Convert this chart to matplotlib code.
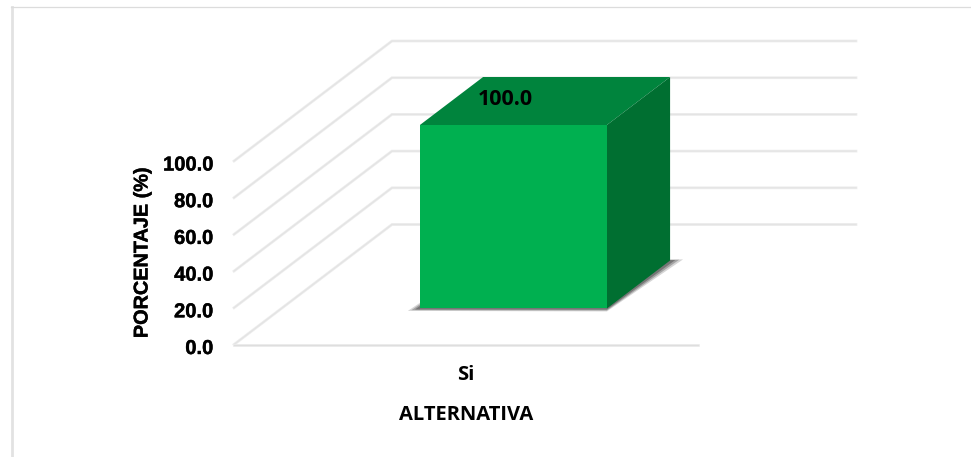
import matplotlib
matplotlib.use('Agg')
from matplotlib import patheffects as pe, pyplot as plt
from matplotlib.lines import Line2D
from matplotlib.patches import Polygon
from matplotlib.transforms import ScaledTranslation

categories = ['Si']
values = [100.0]
y_ticks = [0, 20, 40, 60, 80, 100]
y_tick_labels = ['0.0', '20.0', '40.0', '60.0', '80.0', '100.0']
x_title = 'ALTERNATIVA'
y_title = 'PORCENTAJE (%)'

# oblique depth vector, in data units
DX = 0.3405
DY = 65.4
HEAVY = [pe.withStroke(linewidth=0.3, foreground='black')]


def project(x, v, d):
    return x + DX * d, v + DY * d


fig = plt.figure(figsize=(9.71, 4.57), dpi=100)
ax = fig.add_axes([234 / 971, 112.5 / 457, 625 / 971, 303.5 / 457])
for s in ax.spines.values():
    s.set_visible(False)
ax.patch.set_visible(False)

# outer frame
fig.add_artist(Line2D([11.5 / 971, 11.5 / 971], [0, 449.8 / 457], color='#e2e2e2', lw=2.0))
fig.add_artist(Line2D([10.5 / 971, 1], [449.8 / 457, 449.8 / 457], color='#dcdcdc', lw=0.9))

# grid
for t in y_ticks:
    pts = [project(-0.5, t, 0), project(-0.5, t, 1), project(0.5, t, 1)]
    xs, ys = zip(*pts)
    ax.plot(xs, ys, color='#eeeeee', lw=2.0, clip_on=False, zorder=1, solid_joinstyle='miter')
    ax.plot(xs, ys, color='#e4e4e4', lw=1.0, clip_on=False, zorder=1, solid_joinstyle='miter')
x0, y0 = project(-0.5, 0, 0)
x1, y1 = project(0.5, 0, 0)
ax.plot([x0, x1], [y0, y1], color='#eeeeee', lw=2.0, clip_on=False, zorder=1)
ax.plot([x0, x1], [y0, y1], color='#dedede', lw=1.0, clip_on=False, zorder=1)

# bars
width = 0.403
d0, d1 = 0.3, 0.7
for i, (c, v) in enumerate(zip(categories, values)):
    l, r = i - width / 2, i + width / 2
    # soft shadow on the floor
    for spread, alpha in [(1.0, 0.2), (0.7, 0.3), (0.4, 0.4)]:
        shadow = [(project(l, 0, d0)[0] - 0.026 * spread, project(l, 0, d0)[1] - 1.3 * spread),
                  (project(r, 0, d0)[0], project(r, 0, d0)[1] - 1.6 * spread),
                  (project(r, 0, d1)[0] + 0.028 * spread, project(r, 0, d1)[1] + 0.6 * spread),
                  (project(l, 0, d1)[0], project(l, 0, d1)[1])]
        ax.add_patch(Polygon(shadow, closed=True, fc='#303030', ec='none', alpha=alpha, zorder=2, clip_on=False))
    ax.add_patch(Polygon([project(l, v, d0), project(r, v, d0), project(r, v, d1), project(l, v, d1)],
                         closed=True, fc='#00843d', ec='none', zorder=3, clip_on=False))
    ax.add_patch(Polygon([project(r, 0, d0), project(r, v, d0), project(r, v, d1), project(r, 0, d1)],
                         closed=True, fc='#006f31', ec='none', zorder=3, clip_on=False))
    ax.bar(i + DX * d0, v, width=width, bottom=DY * d0, color='#00b050', zorder=4, clip_on=False)
    lx, ly = project(i, v, 0.5)
    ax.text(lx - 0.086, ly + 1, f'{v:.1f}', ha='center', va='center', fontsize=15.5, fontweight='bold',
            family='Open Sans', color='black', zorder=5)

ax.set_xlim(-0.5, 0.847)
ax.set_ylim(0, 165.4)
ax.set_xticks(range(len(categories)))
ax.set_xticklabels(categories, fontsize=14.5, fontweight='bold', family='Open Sans')
ax.set_yticks(y_ticks)
ax.set_yticklabels(y_tick_labels, fontsize=14.5, fontweight='bold', family='Liberation Sans')
ax.tick_params(axis='both', length=0)
ax.tick_params(axis='y', pad=15)
ax.tick_params(axis='x', pad=15)
for lab in ax.get_yticklabels():
    lab.set_transform(lab.get_transform() + ScaledTranslation(0, -2 / 100, fig.dpi_scale_trans))
    lab.set_path_effects(HEAVY)
ax.set_xlabel(x_title, fontsize=14.5, fontweight='bold', family='Open Sans')
ax.set_ylabel(y_title, fontsize=14.3, fontweight='bold', family='Liberation Sans', path_effects=HEAVY)
ax.yaxis.set_label_coords(-82.5 / 625, 92 / 303.5)
ax.xaxis.set_label_coords(232 / 625, -60 / 303.5)

fig.savefig('out.png', dpi=100)
